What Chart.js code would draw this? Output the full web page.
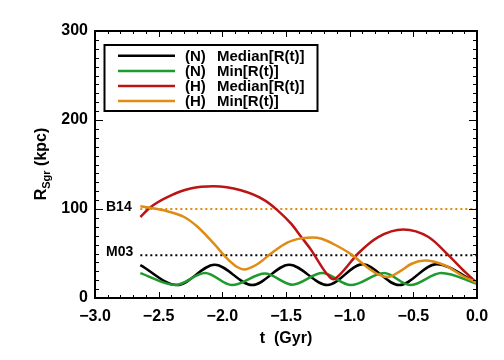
<!DOCTYPE html>
<html>
<head>
<meta charset="utf-8">
<script src="https://cdn.jsdelivr.net/npm/chart.js@4"></script>
<style>
  html, body { margin: 0; padding: 0; background: #fff; }
  #myChart { display: block; }
</style>
</head>
<body>
<canvas id="myChart" width="504" height="360"></canvas>
<script>
// t (Gyr) and R_Sgr (kpc)
const tMedN = [-2.644, -2.355, -2.06, -1.765, -1.475, -1.175, -0.90, -0.61, -0.32, 0];
const rMedN = [37, 14.5, 37.5, 14.5, 37.5, 14.5, 38, 14.5, 38, 17];

const tMinN = [-2.644, -2.37, -2.135, -1.925, -1.665, -1.45, -1.215, -0.99, -0.73, -0.525, -0.28, 0];
const rMinN = [28, 14.5, 28, 14.5, 27.5, 15, 28, 14.5, 28, 14.5, 28, 16];

const tMedH = [-2.644, -2.565, -2.407, -2.25, -2.07, -1.855, -1.67, -1.566, -1.46, -1.38, -1.30, -1.25, -1.184, -1.13, -1.066, -0.934, -0.776, -0.579, -0.381, -0.223, -0.092, 0];
const rMedH = [91, 102, 115, 123, 125.5, 121, 110, 98.5, 83.5, 68.5, 53.5, 42, 28, 21, 28, 50, 68.5, 77, 68.5, 48, 29, 17];

const tMinH = [-2.644, -2.46, -2.30, -2.195, -2.066, -1.96, -1.88, -1.83, -1.72, -1.618, -1.486, -1.38, -1.29, -1.22, -1.105, -0.987, -0.88, -0.776, -0.70, -0.605, -0.513, -0.408, -0.25, -0.118, 0];
const rMinH = [103, 98.5, 91, 80, 61, 44, 34.5, 32, 38.5, 50, 62.5, 67, 68, 66.5, 59, 49, 36.5, 26.5, 23.5, 30, 38.5, 42, 36.5, 25.3, 17];

// reference distances
const tRef = [-2.644, 0];
const rB14 = 100;
const rM03 = 48;

const xTicks = [-3.0, -2.5, -2.0, -1.5, -1.0, -0.5, 0.0];
const yTicks = [0, 100, 200, 300];

const legendNames = [['(N)', 'Median[R(t)]'], ['(N)', 'Min[R(t)]'], ['(H)', 'Median[R(t)]'], ['(H)', 'Min[R(t)]']];

const cBlack = '#000000';
const cGreen = '#1f9a2e';
const cRed = '#bb1414';
const cOrange = '#e08c14';

const FONT = "'Liberation Sans', Arial, sans-serif";

function pts(ts, rs) {
    return ts.map((t, i) => ({ x: t, y: rs[i] }));
}

function curve(data, color) {
    return {
        data: data,
        borderColor: color,
        backgroundColor: 'transparent',
        borderWidth: 2.5,
        pointRadius: 0,
        cubicInterpolationMode: 'monotone'
    };
}

function dotted(r, color) {
    return {
        data: tRef.map(t => ({ x: t, y: r })),
        borderColor: color,
        borderWidth: 2,
        borderDash: [2, 3],
        pointRadius: 0,
        tension: 0
    };
}

function minus(v) {
    return (v < 0 ? '\u2212' : '') + Math.abs(v).toFixed(1);
}

// box round the plot and inward ticks, painted as thin filled rects
function drawFrame(chart) {
    const c = chart.ctx, a = chart.chartArea;
    const xs = chart.scales.x, ys = chart.scales.y;
    const L = Math.round(a.left), R = Math.round(a.right);
    const T = Math.round(a.top), B = Math.round(a.bottom);
    c.save();
    c.setTransform(1, 0, 0, 1, 0, 0);
    c.globalAlpha = 1;
    c.globalCompositeOperation = 'source-over';
    c.fillStyle = '#000';
    for (let i = -30; i <= 0; i++) {
        const px = Math.round(xs.getPixelForValue(i / 10));
        const len = (i % 5 === 0) ? 6 : 3;
        c.fillRect(px, B - len, 1, len);
        c.fillRect(px, T, 1, len);
    }
    for (let v = 0; v <= 300; v += 10) {
        const py = Math.round(ys.getPixelForValue(v));
        const len = (v % 100 === 0) ? 8 : 4;
        c.fillRect(L, py, len, 1);
        c.fillRect(R - len, py, len, 1);
    }
    c.fillRect(L - 1, T - 1, R - L + 2, 2);
    c.fillRect(L - 1, B - 1, R - L + 2, 2);
    c.fillRect(L - 1, T - 1, 2, B - T + 2);
    c.fillRect(R - 1, T - 1, 2, B - T + 2);
    c.restore();
}

const frameTicks = {
    id: 'frameTicks',
    afterDraw(chart) {
        const c = chart.ctx;
        const ys = chart.scales.y;
        c.save();
        c.fillStyle = '#000';

        // y axis title with subscript
        c.translate(42, 164);
        c.rotate(-Math.PI / 2);
        c.font = 'bold 16px ' + FONT;
        const wR = c.measureText('R').width;
        const wRest = c.measureText(' (kpc)').width;
        c.font = 'bold 11px ' + FONT;
        const wSub = c.measureText('Sgr').width;
        let x0 = -(wR + wSub + wRest) / 2;
        c.textBaseline = 'middle';
        c.font = 'bold 16px ' + FONT;
        c.fillText('R', x0, 0);
        c.font = 'bold 11px ' + FONT;
        c.fillText('Sgr', x0 + wR, 5);
        c.font = 'bold 16px ' + FONT;
        c.fillText(' (kpc)', x0 + wR + wSub, 0);
        c.setTransform(1, 0, 0, 1, 0, 0);

        // reference labels
        c.font = 'bold 14px ' + FONT;
        c.textBaseline = 'middle';
        c.fillText('B14', 106, ys.getPixelForValue(rB14) - 2);
        c.fillText('M03', 106, ys.getPixelForValue(rM03) - 3);

        // legend box
        const colors = [cBlack, cGreen, cRed, cOrange];
        const rowY = [55.7, 71, 86, 101];
        c.lineWidth = 2;
        c.strokeStyle = '#000';
        c.strokeRect(104.5, 45, 213, 66);
        c.font = 'bold 15px ' + FONT;
        legendNames.forEach(function(name, i) {
            c.strokeStyle = colors[i];
            c.lineWidth = 2.5;
            c.beginPath();
            c.moveTo(118, rowY[i]);
            c.lineTo(175, rowY[i]);
            c.stroke();
            c.fillText(name[0], 185, rowY[i] + 1);
            c.fillText(name[1], 217, rowY[i] + 1);
        });
        c.restore();

        drawFrame(chart);
    }
};

const ctx = document.getElementById('myChart');
if (ctx) {
    new Chart(ctx, {
        type: 'line',
        data: {
            datasets: [
                curve(pts(tMinH, rMinH), cOrange),
                curve(pts(tMedH, rMedH), cRed),
                curve(pts(tMinN, rMinN), cGreen),
                curve(pts(tMedN, rMedN), cBlack),
                dotted(rB14, cOrange),
                dotted(rM03, cBlack)
            ]
        },
        options: {
            responsive: false,
            animation: false,
            layout: {
                padding: { left: 0, top: 31, right: 27, bottom: 0 }
            },
            plugins: {
                legend: { display: false },
                tooltip: { enabled: false }
            },
            scales: {
                x: {
                    type: 'linear',
                    min: -3,
                    max: 0,
                    afterBuildTicks: (s) => { s.ticks = xTicks.map(v => ({ value: v })); },
                    afterFit: (s) => { s.height = 62; },
                    grid: { display: false, drawTicks: false },
                    border: { display: false },
                    ticks: {
                        color: '#000',
                        padding: 9,
                        maxRotation: 0,
                        font: { family: FONT, size: 16, weight: 'bold' },
                        callback: (v) => minus(v)
                    },
                    title: {
                        display: true,
                        text: 't  (Gyr)',
                        color: '#000',
                        padding: { top: 0, bottom: 12 },
                        font: { family: FONT, size: 16, weight: 'bold' }
                    }
                },
                y: {
                    type: 'linear',
                    min: 0,
                    max: 300,
                    afterBuildTicks: (s) => { s.ticks = yTicks.map(v => ({ value: v })); },
                    afterFit: (s) => { s.width = 95; },
                    grid: { display: false, drawTicks: false },
                    border: { display: false },
                    ticks: {
                        color: '#000',
                        padding: 7,
                        font: { family: FONT, size: 16, weight: 'bold' },
                        callback: (v) => String(v)
                    }
                }
            }
        },
        plugins: [frameTicks]
    });
}
</script>
</body>
</html>
